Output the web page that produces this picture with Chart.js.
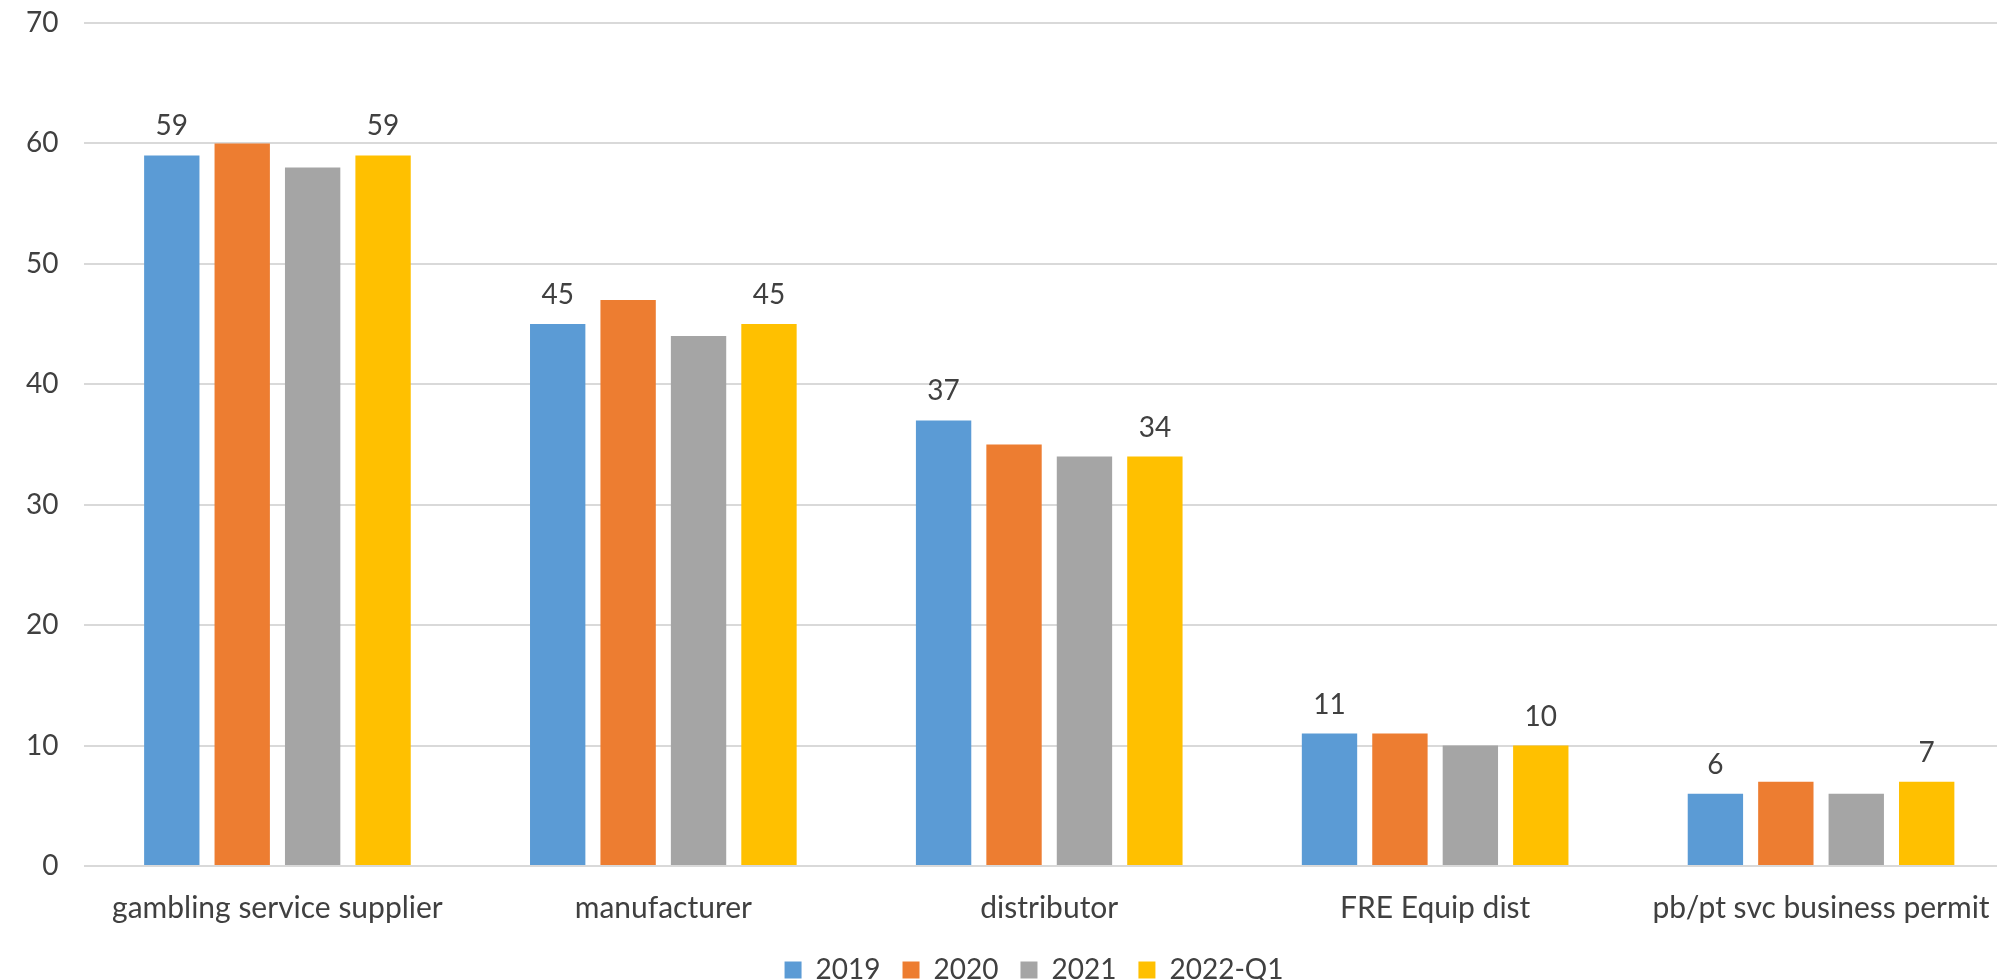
<!DOCTYPE html>
<html>
<head>
<meta charset="utf-8">
<script src="https://cdn.jsdelivr.net/npm/chart.js@4/dist/chart.umd.min.js"></script>
<style>
  html, body { margin: 0; padding: 0; background: #ffffff; overflow: hidden; }
  #wrap { width: 2014px; height: 980px; }
</style>
</head>
<body>
<div id="wrap"><canvas id="c" width="2014" height="980"></canvas></div>
<script>
const categories = ["gambling service supplier", "manufacturer", "distributor", "FRE Equip dist", "pb/pt svc business permit"];
const seriesNames = ["2019", "2020", "2021", "2022-Q1"];
const values2019 = [59, 45, 37, 11, 6];
const values2020 = [60, 47, 35, 11, 7];
const values2021 = [58, 44, 34, 10, 6];
const values2022Q1 = [59, 45, 34, 10, 7];
const yTicks = [0, 10, 20, 30, 40, 50, 60, 70];
const labeledSeries = ["2019", "2022-Q1"];

const colors = ["#5B9BD5", "#ED7D31", "#A5A5A5", "#FFC000"];
const FONT = "Lato, 'Liberation Sans', sans-serif";
const TEXT = "#404040";

const allValues = [values2019, values2020, values2021, values2022Q1];

const labelPlugin = {
  id: "barLabels",
  afterDatasetsDraw(chart) {
    const ctx = chart.ctx;
    ctx.save();
    ctx.font = "28px " + FONT;
    ctx.fillStyle = TEXT;
    ctx.textAlign = "center";
    ctx.textBaseline = "alphabetic";
    chart.data.datasets.forEach((ds, di) => {
      if (!labeledSeries.includes(ds.label)) return;
      const meta = chart.getDatasetMeta(di);
      meta.data.forEach((bar, i) => {
        ctx.fillText(String(ds.data[i]), bar.x, bar.y - 20);
      });
    });
    ctx.restore();
  }
};

const legendShift = {
  id: "legendShift",
  afterLayout(chart) {
    const lg = chart.legend;
    if (!lg) return;
    lg.left += 27; lg.right += 27;
    lg.top -= 8; lg.bottom -= 8;
  }
};

new Chart(document.getElementById("c"), {
  type: "bar",
  data: {
    labels: categories,
    datasets: seriesNames.map((name, i) => ({
      label: name,
      data: allValues[i],
      backgroundColor: colors[i],
      borderWidth: 0,
      categoryPercentage: 0.73,
      barPercentage: 0.786
    }))
  },
  options: {
    responsive: false,
    animation: false,
    layout: { padding: { top: 23, left: 0, right: 0, bottom: -22 } },
    plugins: {
      legend: {
        position: "bottom",
        labels: {
          boxWidth: 17,
          boxHeight: 17,
          padding: 22,
          color: TEXT,
          font: { family: FONT, size: 28 }
        }
      },
      tooltip: { enabled: false }
    },
    scales: {
      x: {
        grid: { display: false },
        border: { display: false },
        ticks: {
          color: TEXT,
          font: { family: FONT, size: 30 },
          padding: 16,
          maxRotation: 0,
          autoSkip: false
        }
      },
      y: {
        min: 0,
        max: 70,
        afterBuildTicks(scale) { scale.ticks = yTicks.map(v => ({ value: v })); },
        afterFit(scale) { scale.paddingTop = 0; },
        grid: { color: "#d9d9d9", lineWidth: 2, drawTicks: false },
        border: { display: false },
        ticks: {
          color: TEXT,
          font: { family: FONT, size: 28 },
          padding: 26
        }
      }
    }
  },
  plugins: [labelPlugin, legendShift]
});
</script>
</body>
</html>
